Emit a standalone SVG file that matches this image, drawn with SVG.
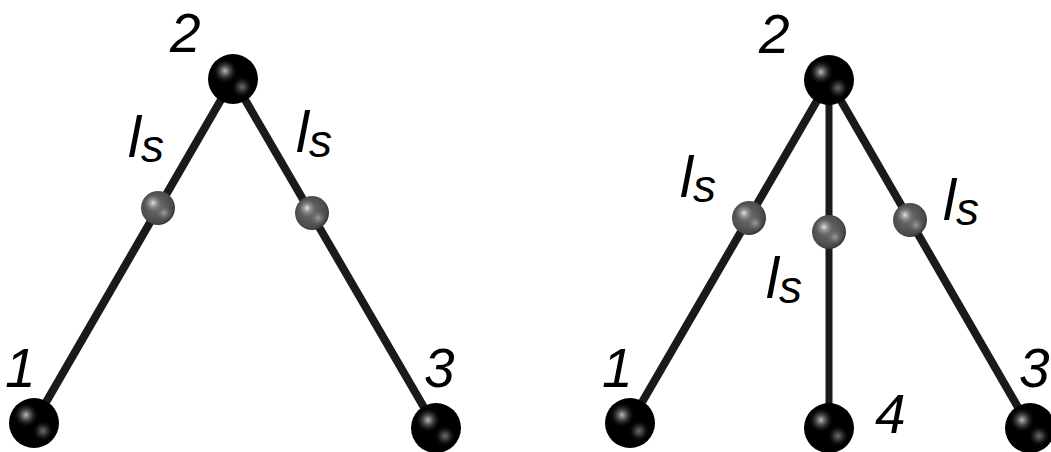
<svg xmlns="http://www.w3.org/2000/svg" xmlns:xlink="http://www.w3.org/1999/xlink" width="1051" height="452" viewBox="0 0 1051 452">
<style>
.lbl{font-family:"Liberation Sans",Arial,sans-serif;font-style:italic;font-size:55px;fill:#000}
.l{font-size:58px}
.s{font-size:46px}
.bond{stroke:#1a1a1a;stroke-width:8;stroke-linecap:butt;fill:none}
</style>
<defs>
<radialGradient id="hlBig1"><stop offset="0" stop-color="#bdbdbd"/><stop offset="0.35" stop-color="#6a6a6a" stop-opacity="0.8"/><stop offset="1" stop-color="#000" stop-opacity="0"/></radialGradient>
<radialGradient id="hlBig2"><stop offset="0" stop-color="#6e6e6e"/><stop offset="0.4" stop-color="#404040" stop-opacity="0.8"/><stop offset="1" stop-color="#000" stop-opacity="0"/></radialGradient>
<radialGradient id="baseSmall" cx="0.45" cy="0.45" r="0.6"><stop offset="0" stop-color="#707070"/><stop offset="0.8" stop-color="#4a4a4a"/><stop offset="1" stop-color="#2a2a2a"/></radialGradient>
<radialGradient id="hlSmall1"><stop offset="0" stop-color="#e6e6e6"/><stop offset="0.4" stop-color="#aaa" stop-opacity="0.7"/><stop offset="1" stop-color="#777" stop-opacity="0"/></radialGradient>
<radialGradient id="hlSmall2"><stop offset="0" stop-color="#a0a0a0"/><stop offset="1" stop-color="#666" stop-opacity="0"/></radialGradient>
<g id="big">
<circle r="25" fill="#000"/>
<circle cx="-8" cy="-8" r="13" fill="url(#hlBig1)"/>
<circle cx="9" cy="8" r="11" fill="url(#hlBig2)"/>
</g>
<g id="small">
<circle r="17" fill="url(#baseSmall)"/>
<circle cx="-5" cy="-5" r="9" fill="url(#hlSmall1)"/>
<circle cx="6" cy="5" r="8" fill="url(#hlSmall2)"/>
</g>
</defs>
<rect width="1051" height="452" fill="#fff"/>
<g id="connectors">
<line class="bond" x1="233" y1="79" x2="34" y2="423"/>
<line class="bond" x1="233" y1="79" x2="436" y2="428"/>
<line class="bond" x1="829" y1="80" x2="630" y2="423"/>
<line class="bond" x1="829" y1="80" x2="1030" y2="428"/>
<line class="bond" x1="829" y1="80" x2="829" y2="428" style="stroke-width:7"/>
</g>
<g id="left-n2"><use xlink:href="#big" href="#big" transform="translate(233,79)"/><text class="lbl" x="170" y="52">2</text></g>
<g id="left-n1"><use xlink:href="#big" href="#big" transform="translate(34,423)"/><text class="lbl" x="5" y="387">1</text></g>
<g id="left-n3"><use xlink:href="#big" href="#big" transform="translate(436,428)"/><text class="lbl" x="424" y="387">3</text></g>
<g id="left-m1"><use xlink:href="#small" href="#small" transform="translate(158,208)"/><text class="lbl" x="128" y="157"><tspan class="l">l</tspan><tspan class="s" dy="5">s</tspan></text></g>
<g id="left-m2"><use xlink:href="#small" href="#small" transform="translate(312,213)"/><text class="lbl" x="296" y="152"><tspan class="l">l</tspan><tspan class="s" dy="5">s</tspan></text></g>
<g id="right-n2"><use xlink:href="#big" href="#big" transform="translate(829,80)"/><text class="lbl" x="759" y="53">2</text></g>
<g id="right-n1"><use xlink:href="#big" href="#big" transform="translate(630,423)"/><text class="lbl" x="602" y="387">1</text></g>
<g id="right-n4"><use xlink:href="#big" href="#big" transform="translate(829,428)"/><text class="lbl" x="875" y="433">4</text></g>
<g id="right-n3"><use xlink:href="#big" href="#big" transform="translate(1030,428)"/><text class="lbl" x="1019" y="387">3</text></g>
<g id="right-m1"><use xlink:href="#small" href="#small" transform="translate(749,218)"/><text class="lbl" x="680" y="197"><tspan class="l">l</tspan><tspan class="s" dy="5">s</tspan></text></g>
<g id="right-m2"><use xlink:href="#small" href="#small" transform="translate(829,232)"/><text class="lbl" x="766" y="298"><tspan class="l">l</tspan><tspan class="s" dy="5">s</tspan></text></g>
<g id="right-m3"><use xlink:href="#small" href="#small" transform="translate(910,220)"/><text class="lbl" x="943" y="220"><tspan class="l">l</tspan><tspan class="s" dy="5">s</tspan></text></g>
</svg>
